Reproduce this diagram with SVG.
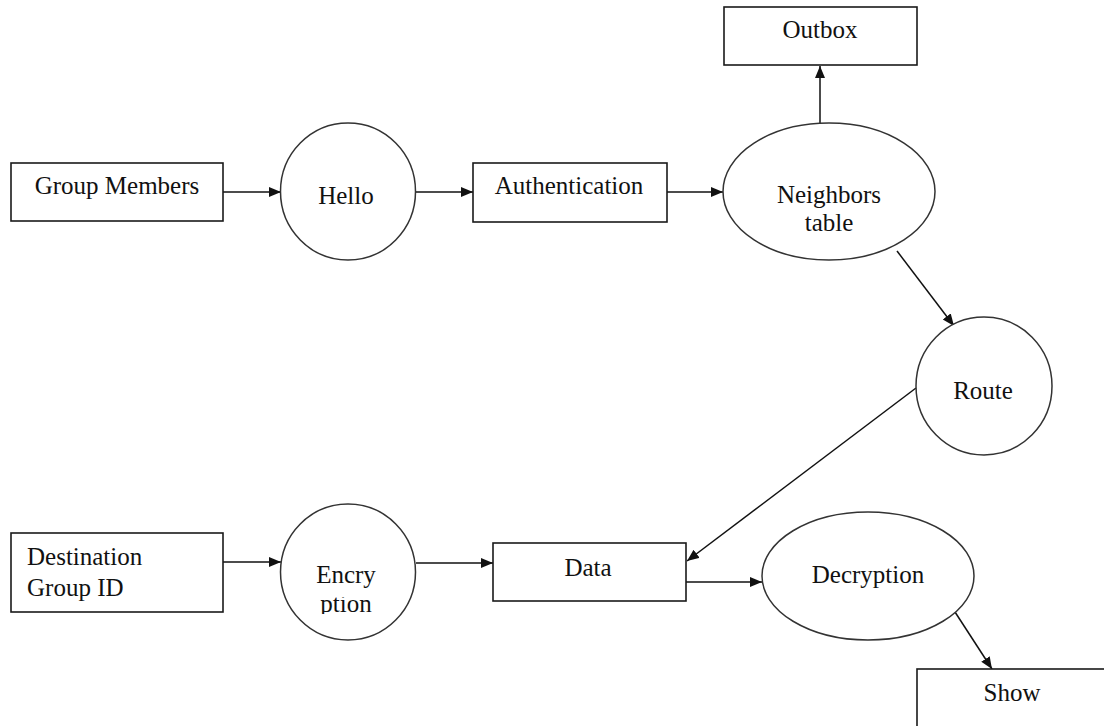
<svg xmlns="http://www.w3.org/2000/svg" width="1104" height="726" viewBox="0 0 1104 726">
  <style>
    .box { fill: #ffffff; stroke: #1a1a1a; stroke-width: 1.6; }
    .oval { fill: #ffffff; stroke: #333333; stroke-width: 1.5; }
    .lbl { font-family: "Liberation Serif", "Times New Roman", serif; font-size: 25px; fill: #111111; }
    .mid { text-anchor: middle; }
    .edge { fill: none; stroke: #111111; stroke-width: 1.5; marker-end: url(#arrow); }
  </style>
  <defs>
    <marker id="arrow" markerUnits="userSpaceOnUse" markerWidth="13" markerHeight="11" refX="12" refY="5" orient="auto">
      <path d="M0,0 L12,5 L0,10 z" fill="#111111"/>
    </marker>
    <!-- the second line of the Encryption label sits in a shallow text box -->
    <clipPath id="encClip">
      <rect x="290" y="597" width="120" height="17"/>
    </clipPath>
  </defs>
  <rect width="1104" height="726" fill="#ffffff"/>

  <g id="connectors">
    <line class="edge" x1="223" y1="192" x2="281" y2="192"/>
    <line class="edge" x1="416" y1="192" x2="473" y2="192"/>
    <line class="edge" x1="667" y1="192" x2="723" y2="192"/>
    <line class="edge" x1="820" y1="123" x2="820" y2="66"/>
    <line class="edge" x1="897" y1="251" x2="954" y2="326"/>
    <line class="edge" x1="916" y1="388" x2="687" y2="561"/>
    <line class="edge" x1="223" y1="562" x2="281" y2="562"/>
    <line class="edge" x1="416" y1="563" x2="493" y2="563"/>
    <line class="edge" x1="686" y1="582" x2="762" y2="582"/>
    <line class="edge" x1="955" y1="612" x2="992" y2="669"/>
  </g>

  <g id="group-members">
    <rect class="box" x="11" y="163" width="212" height="58"/>
    <text class="lbl mid" x="117" y="194">Group Members</text>
  </g>
  <g id="hello">
    <ellipse class="oval" cx="348" cy="191.5" rx="67.5" ry="68.5"/>
    <text class="lbl mid" x="346" y="204">Hello</text>
  </g>
  <g id="authentication">
    <rect class="box" x="473" y="163" width="194" height="59"/>
    <text class="lbl mid" x="569" y="194">Authentication</text>
  </g>
  <g id="neighbors-table">
    <ellipse class="oval" cx="829" cy="191.5" rx="106" ry="68.5"/>
    <text class="lbl mid" x="829" y="203">Neighbors</text>
    <text class="lbl mid" x="829" y="231">table</text>
  </g>
  <g id="outbox">
    <rect class="box" x="724" y="7" width="193" height="58"/>
    <text class="lbl mid" x="820" y="38">Outbox</text>
  </g>
  <g id="route">
    <ellipse class="oval" cx="984" cy="386" rx="68" ry="69"/>
    <text class="lbl mid" x="983" y="399">Route</text>
  </g>
  <g id="destination-group-id">
    <rect class="box" x="11" y="533" width="212" height="79"/>
    <text class="lbl" x="27" y="565">Destination</text>
    <text class="lbl" x="27" y="596">Group ID</text>
  </g>
  <g id="encryption">
    <ellipse class="oval" cx="348" cy="572" rx="67.5" ry="68"/>
    <text class="lbl mid" x="346" y="583">Encry</text>
    <text class="lbl mid" x="346" y="612" clip-path="url(#encClip)">ption</text>
  </g>
  <g id="data">
    <rect class="box" x="493" y="543" width="193" height="58"/>
    <text class="lbl mid" x="588" y="576">Data</text>
  </g>
  <g id="decryption">
    <ellipse class="oval" cx="868" cy="576" rx="106" ry="64"/>
    <text class="lbl mid" x="868" y="583">Decryption</text>
  </g>
  <g id="show">
    <rect class="box" x="917" y="669" width="200" height="80"/>
    <text class="lbl mid" x="1012" y="701">Show</text>
  </g>
</svg>
